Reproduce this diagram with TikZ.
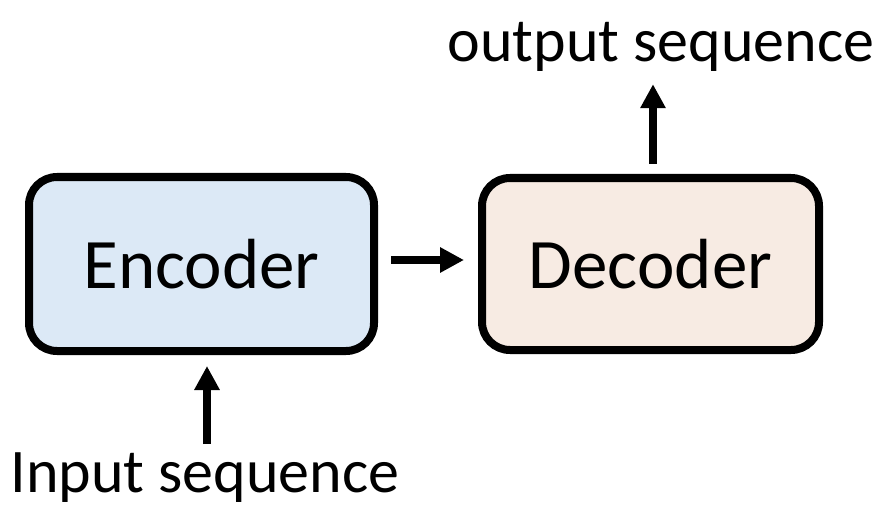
\documentclass[tikz,border=0pt]{standalone}
\usepackage{fontspec}
\setmainfont{Carlito}
\usepackage{xcolor}
\usetikzlibrary{arrows.meta}

\definecolor{encblue}{RGB}{220,233,246}
\definecolor{decpeach}{RGB}{247,235,227}

\begin{document}
\begin{tikzpicture}[
    x=1pt, y=-1pt,
    every node/.style={inner sep=0pt},
    % rounded boxes for the two halves of the model
    block/.style={draw, line width=8pt, rounded corners=28pt,
                  minimum height=174pt, align=center,
                  font=\fontsize{71}{80}\selectfont},
    seqlabel/.style={anchor=base, font=\fontsize{62}{70}\selectfont},
    arrow/.style={-{Triangle[length=24pt, width=24pt]}, line width=8pt}
]
\useasboundingbox (0,0) rectangle (889,508);

\node[block, fill=encblue, minimum width=345pt] (enc) at (201.5,264) {Encoder};
\node[block, fill=decpeach, minimum width=337pt, minimum height=172pt] (dec) at (650.5,264) {Decoder};

\node[seqlabel] (out) at (661,62) {output sequence};
\node[seqlabel] (in) at (205,492) {Input sequence};

\draw[arrow, shorten <=13pt, shorten >=14pt] ([yshift=4pt]enc.east) -- ([yshift=4pt]dec.west);
\draw[arrow, shorten <=10pt, shorten >=12pt] ([xshift=2.5pt]dec.north) -- ([xshift=2.5pt]dec.north |- out.south);
\draw[arrow, shorten <=8pt, shorten >=11pt] ([xshift=2pt]in.north) -- ([xshift=2pt]in.north |- enc.south);

\end{tikzpicture}
\end{document}
